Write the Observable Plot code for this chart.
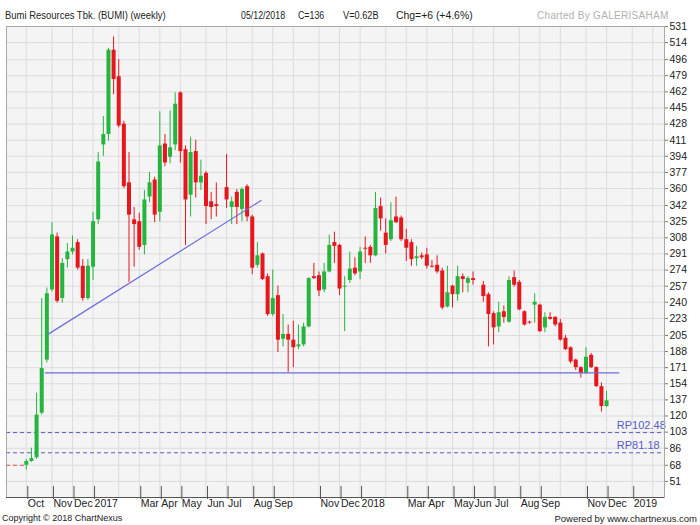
<!DOCTYPE html>
<html><head><meta charset="utf-8">
<script src="https://cdn.jsdelivr.net/npm/d3@7"></script>
<script src="https://cdn.jsdelivr.net/npm/@observablehq/plot@0.6"></script>
<style>
body{margin:0;background:#fff;font-family:"Liberation Sans",Arial,sans-serif;}
#wrap{position:relative;width:700px;height:525px;overflow:hidden;background:#fff}
.t{position:absolute;white-space:nowrap;transform-origin:0 0;}
#chart{position:absolute;left:0;top:12px}
</style></head><body><div id="wrap">
<div class="t" style="left:5px;top:10px;font-size:11px;line-height:11px;transform:scaleX(0.86);color:#222">Bumi Resources Tbk. (BUMI) (weekly)</div>
<div class="t" style="left:241px;top:10.5px;font-size:10px;line-height:10px;transform:scaleX(0.88);color:#222">05/12/2018</div>
<div class="t" style="left:298px;top:10.5px;font-size:10px;line-height:10px;transform:scaleX(0.88);color:#222">C=136</div>
<div class="t" style="left:343px;top:10.5px;font-size:10px;line-height:10px;transform:scaleX(0.92);color:#222">V=0.62B</div>
<div class="t" style="left:396px;top:10.5px;font-size:10px;line-height:10px;transform:scaleX(1.04);color:#222">Chg=+6 (+4.6%)</div>
<div class="t" style="left:537px;top:10.5px;font-size:10px;line-height:10px;letter-spacing:0.3px;color:#b0b0b0">Charted By GALERISAHAM</div>
<div id="chart"></div>
<div class="t" style="left:2px;top:514px;font-size:9px;line-height:9px;color:#222">Copyright © 2018 ChartNexus</div>
<div class="t" style="right:3px;top:514px;font-size:9.5px;line-height:9.5px;color:#222">Powered by www.chartnexus.com</div>
</div>
<script>
// ---- weekly candles (week start dates) ----
const dates = ["2016-10-03","2016-10-10","2016-10-17","2016-10-24","2016-10-31","2016-11-07","2016-11-14","2016-11-21","2016-11-28","2016-12-05","2016-12-12","2016-12-19","2016-12-26",
"2017-01-02","2017-01-09","2017-01-16","2017-01-23","2017-01-30","2017-02-06","2017-02-13","2017-02-20","2017-02-27","2017-03-06","2017-03-13","2017-03-20","2017-03-27",
"2017-04-03","2017-04-10","2017-04-17","2017-04-24","2017-05-01","2017-05-08","2017-05-15","2017-05-22","2017-05-29","2017-06-05","2017-06-12","2017-06-19",
"2017-07-03","2017-07-10","2017-07-17","2017-07-24","2017-07-31","2017-08-07","2017-08-14","2017-08-21","2017-08-28","2017-09-04","2017-09-11","2017-09-18","2017-09-25",
"2017-10-02","2017-10-09","2017-10-16","2017-10-23","2017-10-30","2017-11-06","2017-11-13","2017-11-20","2017-11-27","2017-12-04","2017-12-11","2017-12-18","2017-12-25",
"2018-01-01","2018-01-08","2018-01-15","2018-01-22","2018-01-29","2018-02-05","2018-02-12","2018-02-19","2018-02-26","2018-03-05","2018-03-12","2018-03-19","2018-03-26",
"2018-04-02","2018-04-09","2018-04-16","2018-04-23","2018-04-30","2018-05-07","2018-05-14","2018-05-21","2018-05-28","2018-06-04",
"2018-06-18","2018-06-25","2018-07-02","2018-07-09","2018-07-16","2018-07-23","2018-07-30","2018-08-06","2018-08-13","2018-08-20","2018-08-27",
"2018-09-03","2018-09-10","2018-09-17","2018-09-24","2018-10-01","2018-10-08","2018-10-15","2018-10-22","2018-10-29","2018-11-05","2018-11-12","2018-11-19","2018-11-26","2018-12-03"];
const open  = [68,72,76,123,179,253,309,244,285,293,303,278,244, 277,327,406,417,506,478,428,366,327,325,300,351,369, 335,407,393,406,461,401,353,399,366,376,346,343,
361,340,356,338,362,330,279,291,267,227,247,201,206, 200,193,195,214,267,268,253,272,303,300,256,263,276,
272,297,298,289,341,313,306,330,329,306,303,286,289, 290,278,279,273,235,257,248,267,260,265,
258,248,228,214,230,219,266,261,230,219,237, 237,213,224,224,218,202,192,179,171,165,184,171,151,130];
const high  = [74,86,144,244,255,324,313,286,302,310,306,285,285, 335,398,436,508,520,496,431,398,340,334,358,377,372, 441,417,442,461,462,405,414,411,390,378,356,366,
396,351,359,361,364,332,303,292,270,274,257,227,216, 220,216,218,266,281,272,281,311,314,301,267,293,287,
298,309,300,356,350,328,345,351,331,317,306,299,292, 297,284,289,276,278,258,278,270,267,272,
262,250,230,240,236,267,273,263,231,220,249, 238,229,229,225,222,205,193,180,172,192,186,172,155,146];
const low   = [63,71,74,121,176,251,239,239,276,290,274,241,242, 263,322,394,410,459,424,360,261,277,295,290,345,324, 325,383,386,400,387,300,330,350,358,322,327,330,
339,322,322,325,325,269,276,263,225,225,187,193,166, 171,190,193,213,264,246,250,271,281,247,209,260,268,
264,281,281,288,315,291,304,323,304,283,278,278,285, 275,276,270,232,234,234,241,250,250,258,
240,193,195,208,218,218,256,231,215,217,218, 208,208,221,214,199,189,175,168,160,164,170,150,124,129];
const close = [72,75,121,170,249,311,241,281,293,297,276,244,278, 325,388,417,506,475,426,362,332,322,298,348,366,332, 405,387,403,449,399,348,398,366,373,341,340,341,
348,346,340,359,330,276,289,264,227,244,200,206,200, 192,195,214,265,265,252,272,300,299,254,257,275,270,
293,296,289,339,328,300,326,324,306,297,285,288,287, 278,277,272,234,250,248,267,264,265,263,
246,227,213,229,224,263,258,232,216,218,240, 209,224,222,216,200,190,177,171,165,182,171,151,130,136];

// ---- axes ----
const yTicks = [51,68,86,103,120,137,154,171,188,205,223,240,257,274,291,308,325,342,360,377,394,411,428,445,462,479,496,514,531];
const months = ["2016-10","2016-11","2016-12","2017-01","2017-02","2017-03","2017-04","2017-05","2017-06","2017-07","2017-08","2017-09","2017-10","2017-11","2017-12",
"2018-01","2018-02","2018-03","2018-04","2018-05","2018-06","2018-07","2018-08","2018-09","2018-10","2018-11","2018-12","2019-01","2019-02"];
const monthLabels = ["Oct","Nov","Dec","2017","","Mar","Apr","May","Jun","Jul","Aug","Sep","","Nov","Dec",
"2018","","Mar","Apr","May","Jun","Jul","Aug","Sep","","Nov","Dec","2019",""];

// ---- annotations ----
const levels = [102.48, 81.18];
const levelLabelDate = "2018-12-17";
const supportValue = 165.4, supportFrom = "2016-10-29", supportTo = "2018-12-21";
const trendDates = ["2016-11-02","2017-08-19"], trendValues = [206.4, 347.4];
const prevValue = 68, prevFrom = "2016-09-06", prevTo = "2016-10-01";
const xDomain = ["2016-09-06","2019-02-20"], yDomain = [34, 531];

const GREEN = "#25b43e", RED = "#e6161d", BLUE = "#6d6dda", DASH = "#5a5acb";
const rows = dates.map((d,i)=>({date:new Date(d), open:open[i], high:high[i], low:low[i], close:close[i]}));
const col = d => d.close >= d.open ? GREEN : RED;
// first Monday of each month = the month's first weekly bar
const tickDates = months.map(m => d3.utcMonday.ceil(new Date(m + "-01")));
const labelOf = new Map(tickDates.map((d,i)=>[+d, monthLabels[i]]));
const labeledTicks = tickDates.filter((d,i)=>monthLabels[i] !== "");
const trend = trendDates.map((d,i)=>({date:new Date(d), v:trendValues[i]}));

const chart = Plot.plot({
  width:700, height:500,
  marginTop:14, marginBottom:15, marginLeft:6, marginRight:36,
  x:{type:"utc", domain:xDomain.map(d=>new Date(d))},
  y:{domain:yDomain},
  color:{type:"identity"},
  style:{fontFamily:'"Liberation Sans", Arial, sans-serif', fontSize:"10.5px", color:"#222", background:"transparent", overflow:"visible"},
  marks:[
    Plot.frame({fill:"#f4f4f4"}),
    Plot.ruleY(yTicks, {stroke:"#dcdcdc"}),
    Plot.ruleX(tickDates, {stroke:"#dcdcdc"}),
    Plot.ruleY(levels, {stroke:DASH, strokeDasharray:"4,3", strokeWidth:1}),
    Plot.ruleY([prevValue], {x1:()=>new Date(prevFrom), x2:()=>new Date(prevTo), stroke:"#e05050", strokeDasharray:"4,3"}),
    Plot.text(levels, {x:()=>new Date(levelLabelDate), y:d=>d, text:d=>"RP"+d.toFixed(2), textAnchor:"start", dy:-7, fill:DASH, fontSize:11}),
    Plot.ruleX(rows, {x:"date", y1:"low", y2:"high", stroke:col, strokeWidth:1}),
    Plot.ruleX(rows, {x:"date", y1:"open", y2:"close", stroke:col, strokeWidth:4}),
    Plot.ruleY([supportValue], {x1:()=>new Date(supportFrom), x2:()=>new Date(supportTo), stroke:BLUE, strokeWidth:1.2}),
    Plot.line(trend, {x:"date", y:"v", stroke:BLUE, strokeWidth:1.2}),
    Plot.frame({stroke:"#a8a8a8"}),
    Plot.ruleY([yDomain[0]], {stroke:"#555"}),
    Plot.axisY(yTicks, {anchor:"right", tickSize:3, tickPadding:2, tickFormat:d=>String(d), stroke:"#777", fontSize:10.5}),
    Plot.axisX(labeledTicks, {anchor:"bottom", tickSize:13, tickPadding:0, tickFormat:d=>labelOf.get(+d), textAnchor:"start", dx:1.5, dy:-11, stroke:"#555", fontSize:10.5})
  ]
});
document.getElementById("chart").appendChild(chart);
</script>
</body></html>
